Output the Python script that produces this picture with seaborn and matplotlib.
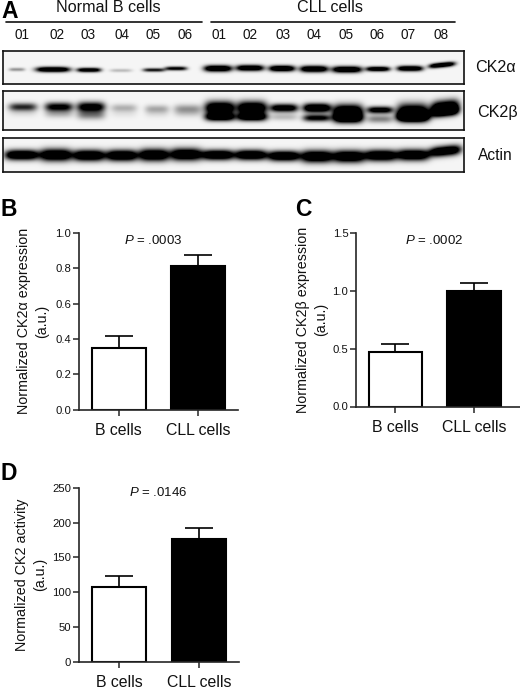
import numpy as np
import matplotlib
matplotlib.use("Agg")
import matplotlib.pyplot as plt
from matplotlib.lines import Line2D
import seaborn as sns

sns.set_theme(style="ticks")
plt.rcParams['font.family'] = ['Liberation Sans', 'DejaVu Sans']
plt.rcParams['mathtext.fontset'] = 'custom'
plt.rcParams['mathtext.it'] = 'Liberation Sans:italic'
plt.rcParams['mathtext.rm'] = 'Liberation Sans'

W, H = 520, 690

# Bar data
groups = ["B cells", "CLL cells"]
ck2a_mean = [0.35, 0.815]
ck2a_sem = [0.068, 0.058]
ck2b_mean = [0.47, 1.0]
ck2b_sem = [0.07, 0.065]
act_mean = [108, 177]
act_sem = [15, 16]
bar_colors = ["white", "black"]

# Blot lane annotations
normal_lanes = ["01", "02", "03", "04", "05", "06"]
cll_lanes = ["01", "02", "03", "04", "05", "06", "07", "08"]
normal_label_x = [22, 57, 88, 122, 153, 185]
cll_label_x = [219, 250, 283, 314, 346, 377, 408, 441]

# Blot bands, read lane by lane (page pixels)
a_x = [17, 53, 89, 121, 154, 176, 218, 250, 282, 314, 347, 378, 410, 442]
a_hw = [8, 17, 12, 11, 11, 11, 14, 14, 13, 14, 15, 12, 13, 13]
a_y = [69.5, 69.5, 70, 70.5, 70, 68.5, 68.5, 68, 68.5, 69, 69.5, 69, 68.5, 65]
a_i = [0.25, 0.98, 0.85, 0.15, 0.6, 0.7, 1, 0.95, 1, 1, 1, 0.9, 0.95, 1]
a_h = [1.8, 2.6, 2.2, 1.8, 1.9, 2.0, 3.2, 3.0, 3.0, 3.2, 3.2, 2.4, 2.7, 2.4]

b_x = [23, 59, 91, 124, 157, 188, 220, 252, 284, 317, 348, 380, 413, 445]
b_hw = [14, 14, 14, 13, 12, 14, 15, 15, 14, 14, 15, 13, 16, 14]
b_up_y = [107, 107, 107, 108, 109, 109, 108, 108, 108, 108, 111, 110, 112, 107]
b_up_i = [0.55, 0.72, 0.8, 0.18, 0.2, 0.25, 1, 1, 0.85, 1, 1, 0.8, 1, 1]
b_up_h = [4, 4.5, 5, 4, 4, 4.5, 6.5, 6.5, 4, 4.5, 6.5, 3.5, 8, 6.5]
b_lo_y = [113, 114, 115, 114, 114, 114, 117, 117, 117, 118, 118, 119, 117, 112]
b_lo_i = [0.06, 0.16, 0.3, 0.04, 0.05, 0.07, 0.9, 0.9, 0.15, 0.7, 1, 0.3, 1, 0.8]
b_lo_h = [4, 4, 4.5, 4, 4, 4, 4, 4, 3.5, 3.5, 5, 4, 4.5, 4.5]

c_x = [22, 56, 89, 122, 154, 186, 218, 251, 284, 317, 349, 381, 413, 445]
c_hw = [17, 16, 16, 16, 15, 16, 16, 16, 16, 16, 16, 16, 16, 16]
c_y = [155, 155, 155.5, 155.5, 155, 154.5, 155, 155, 156, 156.5, 156.5, 155.5, 155, 151]
c_i = [1] * 14
c_h = [5, 6, 5.5, 5.5, 6, 6, 5, 5, 5, 6, 6, 5.5, 5.5, 5]


def axes_px(left, top, right, bottom):
    return fig.add_axes([left / W, 1 - bottom / H, (right - left) / W, (bottom - top) / H])


def blot(box, bands):
    left, top, right, bottom = box
    xx, yy = np.meshgrid(np.arange(left, right) + 0.5, np.arange(top, bottom) + 0.5)
    img = np.full(xx.shape, 0.04)
    for xs, hws, ys, ints, hs in bands:
        for xc, hw, yc, i, h in zip(xs, hws, ys, ints, hs):
            tilt = -0.1 if xc > 440 else 0.0
            across = (yy - yc - tilt * (xx - xc)) / h
            along = (xx - xc) / hw
            img += i * 1.5 * np.exp(-along ** 4) * np.exp(-across ** 2)
    ax = axes_px(*box)
    sns.heatmap(np.clip(img, 0, 1), ax=ax, cmap="gray_r", vmin=0, vmax=1, cbar=False,
                xticklabels=False, yticklabels=False, rasterized=True)
    ax.tick_params(length=0)
    for s in ax.spines.values():
        s.set_visible(True)
        s.set_linewidth(1.2)
        s.set_color("#111111")
    return ax


def bar_panel(box, xlim, ylim, yticks, ytlabels, means, sems, ylabel, ylabel_x, ptext, p_xy, letter, letter_xy):
    ax = axes_px(*box)
    sns.barplot(x=groups, y=means, hue=groups, palette=bar_colors, legend=False, ax=ax,
                width=0.68, edgecolor="black", linewidth=1.5, saturation=1)
    ax.errorbar([0, 1], means, yerr=[[0, 0], sems], fmt="none", ecolor="black",
                elinewidth=1.2, capsize=10, capthick=1.2)
    ax.set_xlim(*xlim)
    ax.set_ylim(*ylim)
    ax.set_yticks(yticks)
    ax.set_yticklabels(ytlabels, fontsize=8.1, color="#111111")
    ax.set_xticks([0, 1])
    ax.set_xticklabels(groups, fontsize=11.4, color="#111111")
    ax.tick_params(axis="y", length=4, width=1.1, pad=1.5)
    ax.tick_params(axis="x", length=4, width=1.1, pad=6)
    sns.despine(ax=ax)
    ax.spines["left"].set_linewidth(1.2)
    ax.spines["bottom"].set_linewidth(1.2)
    fig.text(ylabel_x / W, 1 - (box[1] + box[3]) / 2 / H, ylabel, rotation=90, ha="center",
             va="center", fontsize=10.3, color="#111111", linespacing=1.45)
    fig.text(p_xy[0] / W, 1 - p_xy[1] / H, ptext, ha="center", va="center", fontsize=9.5, color="#111111")
    fig.text(letter_xy[0] / W, 1 - letter_xy[1] / H, letter, ha="left", va="center",
             fontsize=16.5, fontweight="bold", color="black")
    return ax


fig = plt.figure(figsize=(W / 100, H / 100), dpi=100, facecolor="white")

# Panel A
fig.text(1 / W, 1 - 12 / H, "A", ha="left", va="center", fontsize=16.5, fontweight="bold", color="black")
fig.text(108 / W, 1 - 8 / H, "Normal B cells", ha="center", va="center", fontsize=11.6, color="#111111")
fig.text(330 / W, 1 - 8 / H, "CLL cells", ha="center", va="center", fontsize=11.6, color="#111111")
fig.add_artist(Line2D([6 / W, 202 / W], [1 - 22 / H] * 2, color="#111111", lw=1.2))
fig.add_artist(Line2D([211 / W, 455 / W], [1 - 22 / H] * 2, color="#111111", lw=1.2))
for x, t in zip(normal_label_x + cll_label_x, normal_lanes + cll_lanes):
    fig.text(x / W, 1 - 35 / H, t, ha="center", va="center", fontsize=9.8, color="#111111")

blot((3, 51, 464, 84), [(a_x, a_hw, a_y, a_i, a_h)])
blot((3, 91, 464, 130), [(b_x, b_hw, b_lo_y, b_lo_i, b_lo_h), (b_x, b_hw, b_up_y, b_up_i, b_up_h)])
blot((3, 138, 464, 172), [(c_x, c_hw, c_y, c_i, c_h)])
fig.text(475 / W, 1 - 67 / H, "CK2α", ha="left", va="center", fontsize=11.6, color="#111111")
fig.text(477 / W, 1 - 113 / H, "CK2β", ha="left", va="center", fontsize=11.6, color="#111111")
fig.text(478 / W, 1 - 156 / H, "Actin", ha="left", va="center", fontsize=11.2, color="#111111")

bar_panel((79, 233, 237.5, 409.5), (-0.5, 1.5), (0, 1.0), [0, .2, .4, .6, .8, 1.0],
          ["0.0", "0.2", "0.4", "0.6", "0.8", "1.0"], ck2a_mean, ck2a_sem,
          "Normalized CK2α expression\n(a.u.)", 33, r"$\it{P}$ = .0003", (153, 240), "B", (1, 210))
bar_panel((356, 233, 520, 406.5), (-0.5, 1.58), (0, 1.5), [0, .5, 1.0, 1.5],
          ["0.0", "0.5", "1.0", "1.5"], ck2b_mean, ck2b_sem,
          "Normalized CK2β expression\n(a.u.)", 312, r"$\it{P}$ = .0002", (434, 241), "C", (295, 210))
bar_panel((79, 488, 239, 661.5), (-0.5, 1.5), (0, 250), [0, 50, 100, 150, 200, 250],
          ["0", "50", "100", "150", "200", "250"], act_mean, act_sem,
          "Normalized CK2 activity\n(a.u.)", 31, r"$\it{P}$ = .0146", (158, 492), "D", (1, 474))

fig.savefig("out.png", dpi=100)
